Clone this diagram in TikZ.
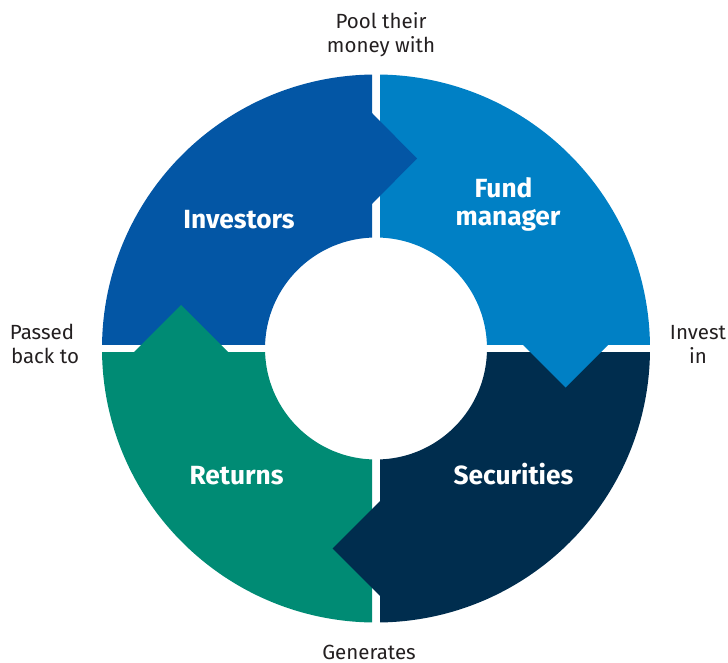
\documentclass[tikz,border=0pt]{standalone}
\usepackage{fontspec}
\setmainfont{Fira Sans}
\definecolor{cInv}{HTML}{0356A5}
\definecolor{cFund}{HTML}{0080C5}
\definecolor{cSec}{HTML}{002D4E}
\definecolor{cRet}{HTML}{008B74}
\definecolor{cLab}{HTML}{231F20}
\tikzset{
  title/.style={anchor=base, text=white, inner sep=0pt, font=\fontsize{26.3}{30}\selectfont\bfseries},
  lab/.style={anchor=base, text=cLab, inner sep=0pt, font=\fontsize{20.5}{24}\selectfont},
}
\begin{document}
\begin{tikzpicture}[x=1pt,y=-1pt]
\useasboundingbox (0,0) rectangle (728,663);
\def\cx{376}\def\cy{348.5}\def\Ro{274}\def\Ri{111}
% quadrants
\begin{scope}
  \clip (0,0) rectangle (372,344.5);
  \fill[cInv,even odd rule] (\cx,\cy) circle[radius=\Ro] (\cx,\cy) circle[radius=\Ri];
\end{scope}
\begin{scope}
  \clip (380,0) rectangle (728,344.5);
  \fill[cFund,even odd rule] (\cx,\cy) circle[radius=\Ro] (\cx,\cy) circle[radius=\Ri];
\end{scope}
\begin{scope}
  \clip (380,352.5) rectangle (728,663);
  \fill[cSec,even odd rule] (\cx,\cy) circle[radius=\Ro] (\cx,\cy) circle[radius=\Ri];
\end{scope}
\begin{scope}
  \clip (0,352.5) rectangle (372,663);
  \fill[cRet,even odd rule] (\cx,\cy) circle[radius=\Ro] (\cx,\cy) circle[radius=\Ri];
\end{scope}
% arrow tips
\fill[cInv] (372,113) -- (417,158.5) -- (372,204) -- cycle;
\fill[cFund] (522.5,344.5) -- (608.5,344.5) -- (565.5,387.5) -- cycle;
\fill[cSec] (380,501) -- (332.5,548.5) -- (380,596) -- cycle;
\fill[cRet] (133.5,352.5) -- (181,305) -- (228.5,352.5) -- cycle;
% titles
\node[title] (inv) at (239,229) {Investors};
\node[title] (fund1) at (503.5,198) {Fund};
\node[title] (fund2) at (508,225.5) {manager};
\node[title] (sec) at (513.5,484) {Securities};
\node[title] (ret) at (236.5,484) {Returns};
% labels
\node[lab] (pool1) at (381,28.5) {Pool their};
\node[lab] (pool2) at (381,52.5) {money with};
\node[lab] (pass1) at (42,339) {Passed};
\node[lab] (pass2) at (45,363) {back to};
\node[lab] (invst1) at (698,339) {Invest};
\node[lab] (invst2) at (698,363) {in};
\node[lab] (gen) at (369,659) {Generates};
\end{tikzpicture}
\end{document}
